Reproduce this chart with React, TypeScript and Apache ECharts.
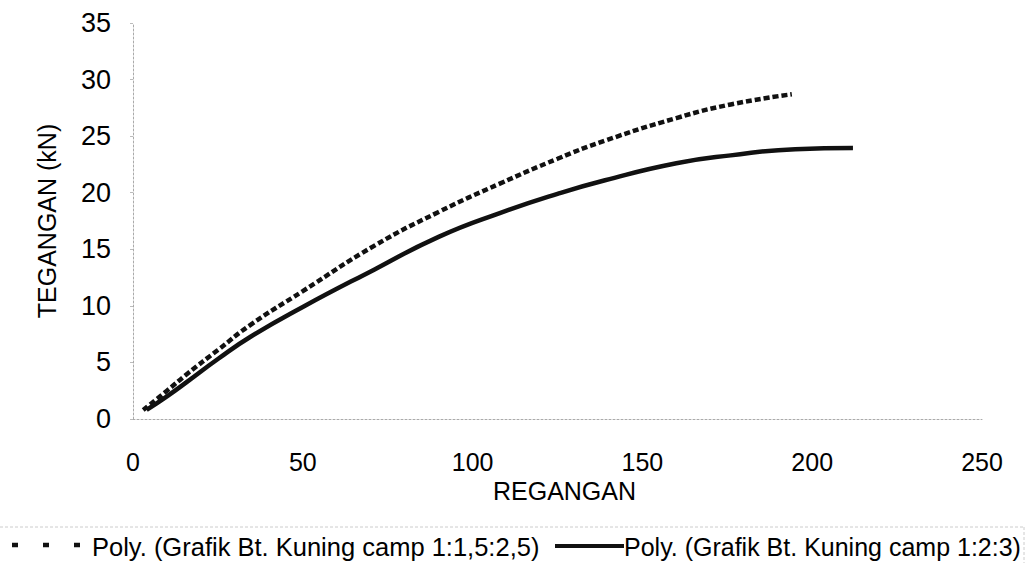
import React, { useEffect, useRef } from "react";
import * as echarts from "echarts";

// Poly. (Grafik Bt. Kuning camp 1:1,5:2,5) — dashed
const dashedX = [3, 10, 16, 25, 34.5, 50, 71, 90, 108, 125, 139, 160, 176, 194];
const dashedY = [0.8, 2.5, 4.0, 6.1, 8.3, 11.3, 15.3, 18.3, 20.8, 23.0, 24.6, 26.6, 27.8, 28.7];

// Poly. (Grafik Bt. Kuning camp 1:2:3) — solid
const solidX = [4, 10, 16, 25, 34.5, 50, 71, 90, 108, 125, 139, 160, 176, 195, 212];
const solidY = [0.8, 2.0, 3.3, 5.3, 7.25, 9.9, 13.2, 16.1, 18.2, 19.9, 21.1, 22.6, 23.3, 23.85, 23.95];

const seriesNames = [
  "Poly. (Grafik Bt. Kuning camp 1:1,5:2,5)",
  "Poly. (Grafik Bt. Kuning camp 1:2:3)",
];
const xAxisName = "REGANGAN";
const yAxisName = "TEGANGAN (kN)";

const FONT = "'Liberation Sans', Arial, sans-serif";

export default function App() {
  const ref = useRef<HTMLDivElement>(null);
  useEffect(() => {
    document.body.style.margin = "0";
    const chart = echarts.init(ref.current!, null, { renderer: "svg" });
    const axisLine = { show: true, lineStyle: { color: "#aaa", width: 1, type: [2, 2] as any } };
    chart.setOption({
      animation: false,
      backgroundColor: "#fff",
      textStyle: { fontFamily: FONT },
      grid: { left: 133, top: 23, right: 53, bottom: 144, containLabel: false, outerBoundsMode: "none" },
      xAxis: {
        type: "value",
        min: 0,
        max: 250,
        interval: 50,
        name: xAxisName,
        nameLocation: "middle",
        nameGap: 53,
        nameTextStyle: { fontSize: 25, color: "#000", fontFamily: FONT, padding: [0, 0, 0, 14] },
        axisLine,
        axisTick: { show: false },
        splitLine: { show: false },
        axisLabel: { fontSize: 25, color: "#000", margin: 30, fontFamily: FONT },
      },
      yAxis: {
        type: "value",
        min: 0,
        max: 35,
        interval: 5,
        name: yAxisName,
        nameLocation: "middle",
        nameGap: 74,
        nameTextStyle: { fontSize: 25, color: "#000", fontFamily: FONT },
        axisLine,
        axisTick: { show: true, length: 3, lineStyle: { color: "#bbb" } },
        splitLine: { show: false },
        axisLabel: { fontSize: 27, color: "#000", margin: 22, fontFamily: FONT },
      },
      series: [
        {
          name: seriesNames[0],
          type: "line",
          smooth: true,
          showSymbol: false,
          data: dashedX.map((x, i) => [x, dashedY[i]]),
          lineStyle: { color: "#111", width: 4.5, type: [6, 3] },
        },
        {
          name: seriesNames[1],
          type: "line",
          smooth: true,
          showSymbol: false,
          data: solidX.map((x, i) => [x, solidY[i]]),
          lineStyle: { color: "#111", width: 4.5, type: "solid" },
        },
      ],
      graphic: [
        { type: "line", shape: { x1: 0, y1: 527, x2: 1024, y2: 527 }, style: { stroke: "#ccc", lineWidth: 1, lineDash: [3, 2] } },
        { type: "line", shape: { x1: 1024, y1: 527, x2: 1024, y2: 563 }, style: { stroke: "#ccc", lineWidth: 1, lineDash: [3, 2] } },
        { type: "line", shape: { x1: 12, y1: 545, x2: 80, y2: 545 }, style: { stroke: "#111", lineWidth: 4.5, lineDash: [6, 25] } },
        { type: "text", x: 92, y: 547, style: { text: seriesNames[0], fontSize: 25.5, fill: "#000", fontFamily: FONT, verticalAlign: "middle" } },
        { type: "line", shape: { x1: 555, y1: 546, x2: 624, y2: 546 }, style: { stroke: "#111", lineWidth: 4 } },
        { type: "text", x: 624, y: 547, style: { text: seriesNames[1], fontSize: 25, fill: "#000", fontFamily: FONT, verticalAlign: "middle" } },
      ],
    });
    return () => chart.dispose();
  }, []);
  return <div ref={ref} style={{ position: "fixed", left: 0, top: 0, width: 1035, height: 563 }} />;
}
